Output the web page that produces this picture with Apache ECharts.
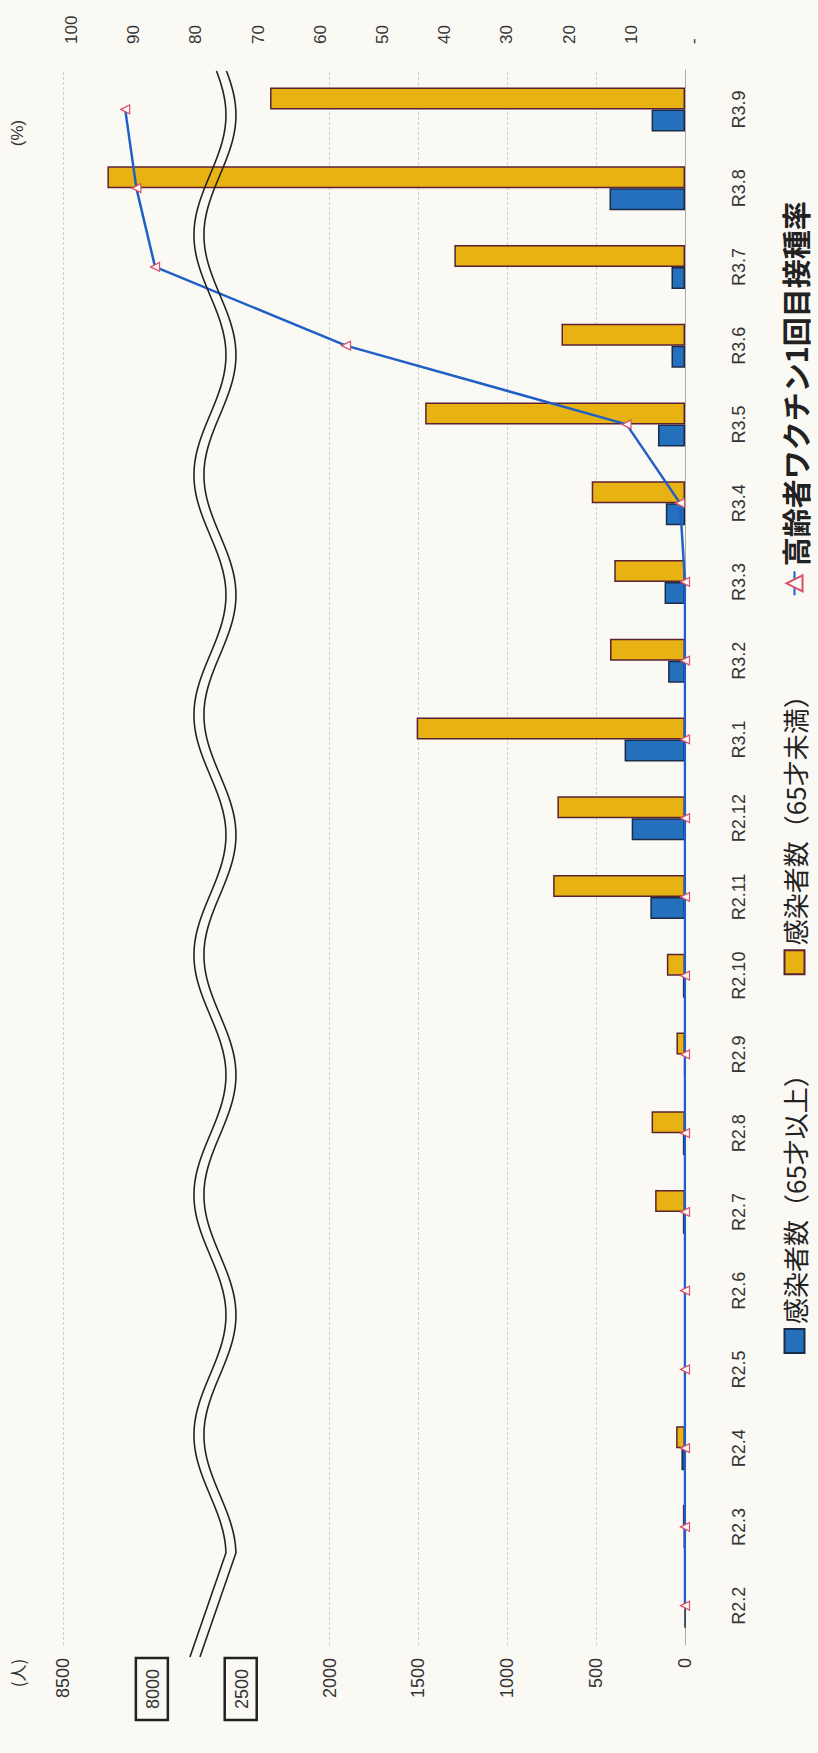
<!DOCTYPE html>
<html><head><meta charset="utf-8">
<script src="https://cdn.jsdelivr.net/npm/echarts@6/dist/echarts.min.js"></script>
<style>
html,body{margin:0;padding:0;width:818px;height:1753px;overflow:hidden;background:#fbf9f4;}
#wrap{position:absolute;left:0;top:0;width:1753px;height:818px;transform-origin:0 0;transform:translate(0,1753px) rotate(-90deg);}
</style></head><body><div id="wrap"></div>
<script>
// ---- data ----
const categories = ['R2.2','R2.3','R2.4','R2.5','R2.6','R2.7','R2.8','R2.9','R2.10','R2.11','R2.12','R3.1','R3.2','R3.3','R3.4','R3.5','R3.6','R3.7','R3.8','R3.9'];
const over65 = [0, 8, 20, 0, 0, 12, 12, 4, 12, 195, 300, 340, 95, 115, 108, 152, 76, 76, 425, 188];
const under65 = [0, 12, 50, 0, 0, 168, 188, 48, 102, 742, 718, 1510, 422, 398, 525, 1462, 695, 1298, 8250, 2335];
const vaccineRate = [0, 0, 0, 0, 0, 0, 0, 0, 0, 0, 0, 0, 0, 0, 0.8, 9.4, 54.5, 85.2, 88.2, 90.0];
const boxedTicks = [2500, 8000];
const seriesNames = ['感染者数（65才以上）', '感染者数（65才未満）', '高齢者ワクチン1回目接種率'];
const leftUnit = '(人)';
const rightUnit = '(%)';

const BG = '#fbf9f4';
const chart = echarts.init(document.getElementById('wrap'), null, {renderer: 'svg'});
const numFont = 'Liberation Sans';
const cjkFont = 'Noto Sans CJK JP';
const option = {
  backgroundColor: BG,
  animation: false,
  grid: {left: 108, right: 70, top: 63, bottom: 133},
  legend: {
    left: 394, top: 775, itemWidth: 24, itemHeight: 20, itemGap: 86,
    textStyle: {fontSize: 26, color: '#222', fontFamily: cjkFont},
    data: [
      {name: seriesNames[0], icon: 'rect', itemWidth: 20, itemHeight: 22},
      {name: seriesNames[1], icon: 'rect'},
      {name: seriesNames[2],
       textStyle: {fontSize: 29, fontWeight: 'bold', color: '#222', fontFamily: cjkFont}}
    ]
  },
  xAxis: {
    type: 'category', data: categories,
    axisLine: {lineStyle: {color: '#aaa'}}, axisTick: {show: false},
    axisLabel: {margin: 45, fontSize: 18, color: '#333', fontFamily: 'Liberation Sans Narrow, Liberation Sans'}
  },
  yAxis: [{
    type: 'value', min: 0, max: 8500, interval: 500,
    breaks: [{start: 2500, end: 8000, gap: 500}],
    breakArea: {show: false, itemStyle: {opacity: 0}},
    axisLine: {show: false}, axisTick: {show: false},
    splitLine: {lineStyle: {color: '#cfcfcf', type: [3, 2]}},
    axisLabel: {
      margin: 13, fontSize: 18, color: '#333', fontFamily: numFont,
      formatter: v => boxedTicks.indexOf(v) >= 0 ? '{b|' + v + '}' : String(v),
      rich: {b: {borderColor: '#222', borderWidth: 2.5, padding: [8, 11, 6, 11], fontSize: 18, color: '#333', fontFamily: numFont}}
    }
  }, {
    type: 'value', position: 'right', min: 0, max: 100, interval: 10,
    splitLine: {show: false}, axisLine: {show: false}, axisTick: {show: false},
    axisLabel: {margin: 26, fontSize: 17, color: '#333', fontFamily: numFont, verticalAlign: 'top',
      formatter: v => v === 0 ? '-' : String(v)}
  }],
  series: [{
    name: seriesNames[0], type: 'bar', data: over65, barWidth: 22, barGap: '0%',
    itemStyle: {color: '#2470bd', borderColor: '#1b2b4a', borderWidth: 1.5}
  }, {
    name: seriesNames[1], type: 'bar', data: under65, barWidth: 22,
    itemStyle: {color: '#e8b312', borderColor: '#5a2333', borderWidth: 1.5}
  }, {
    name: seriesNames[2], type: 'line', yAxisIndex: 1, data: vaccineRate,
    symbol: 'triangle', symbolSize: 9, showAllSymbol: true,
    lineStyle: {color: '#1f5fc8', width: 2.5},
    itemStyle: {color: BG, borderColor: '#d8506a', borderWidth: 1.2}
  }]
};
chart.setOption(option);

// ---- annotations: unit labels and the hand-drawn break wave ----
const p2500 = chart.convertToPixel({yAxisIndex: 0}, 2500);
const p8000 = chart.convertToPixel({yAxisIndex: 0}, 8000);
const C = p2500 + 0.29 * (p8000 - p2500);
function wavePts(off) {
  const pts = [];
  for (let x = 1682; x >= 198; x -= 3) {
    pts.push([x, C + off - 16 * Math.cos(2 * Math.PI * (318 - x) / 240)]);
  }
  pts.push([96, C - 20 + off]);
  return pts;
}
chart.setOption({
  graphic: [
    {type: 'polyline', shape: {points: wavePts(-5)}, style: {stroke: '#222', lineWidth: 1.6, fill: null}, z: 50},
    {type: 'polyline', shape: {points: wavePts(5)}, style: {stroke: '#222', lineWidth: 1.6, fill: null}, z: 50},
    {type: 'text', x: 80, y: 17, style: {text: leftUnit, fontSize: 17, fill: '#333', align: 'center', verticalAlign: 'middle', fontFamily: cjkFont}},
    {type: 'text', x: 1620, y: 17, style: {text: rightUnit, fontSize: 17, fill: '#333', align: 'center', verticalAlign: 'middle', fontFamily: numFont}}
  ]
});
</script>
</body></html>
